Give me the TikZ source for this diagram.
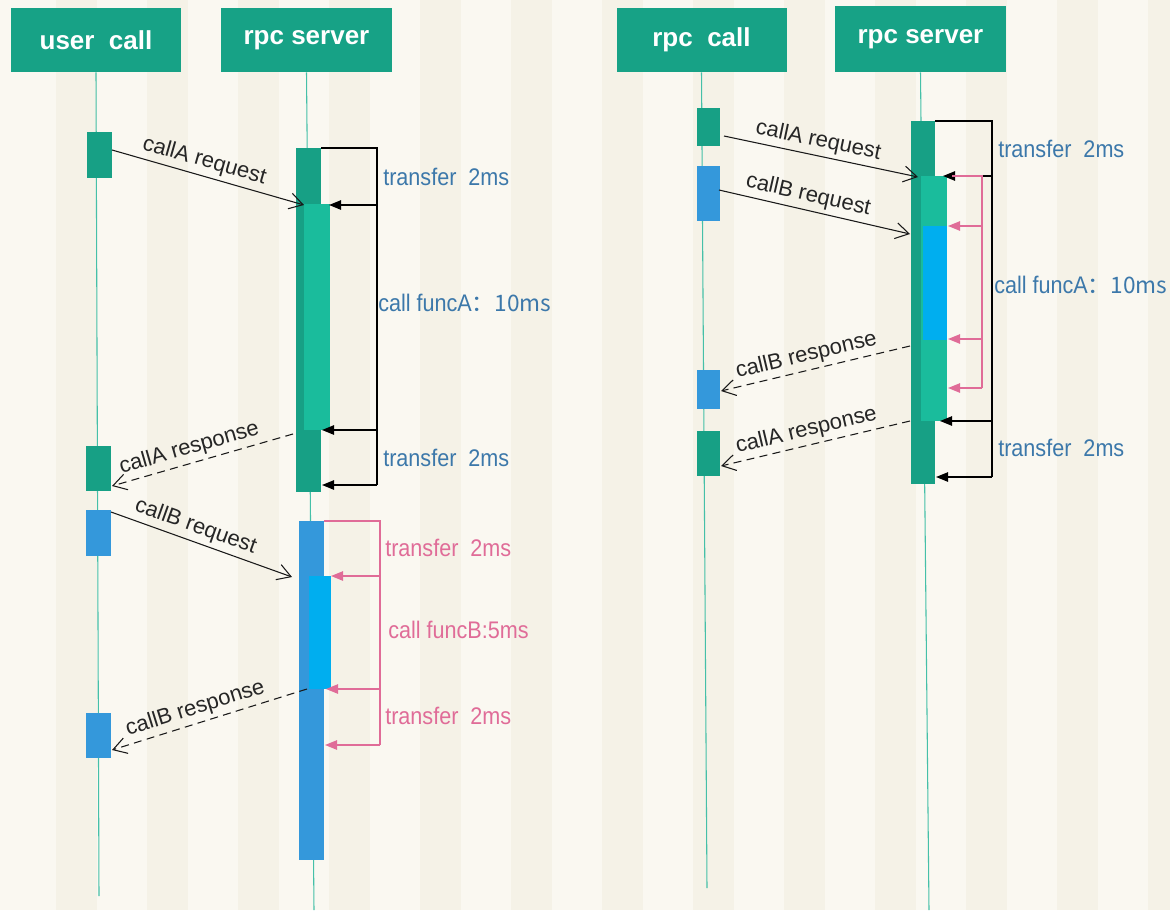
\documentclass[tikz,border=0pt]{standalone}
\usepackage{fontspec}
\setmainfont{Liberation Sans}
\newfontfamily\lblfont[FakeStretch=0.9]{Liberation Sans}
\newfontfamily\cjkfont{Noto Sans CJK SC}
\usetikzlibrary{arrows.meta,fit}
\definecolor{bgA}{HTML}{FAF8F1}
\definecolor{bgB}{HTML}{F5F2E7}
\definecolor{hdr}{HTML}{17A286}
\definecolor{grn}{HTML}{17A085}
\definecolor{lgrn}{HTML}{1ABC9C}
\definecolor{blu}{HTML}{3498DB}
\definecolor{cyn}{HTML}{00AEEF}
\definecolor{lifec}{HTML}{45C0A8}
\definecolor{lblue}{HTML}{3C78AA}
\definecolor{pnk}{HTML}{E06C98}
\begin{document}
\begin{tikzpicture}[x=0.75pt,y=-0.75pt]
\tikzset{
  hdrbox/.style={fill=hdr, text=white, font=\bfseries\fontsize{19.5}{22}\selectfont,
    minimum width=127.5pt, minimum height=48pt, inner sep=0pt},
  lifeline/.style={draw=lifec, line width=0.8pt},
  act/.style={fill=#1, draw=none, inner sep=0pt, outer sep=0pt},
  msg/.style={draw=black!90, line width=0.8pt, -{Straight Barb[length=10pt,width=12pt,line width=0.8pt]}},
  rsp/.style={msg, dash pattern=on 6pt off 4pt},
  mlabel/.style={sloped, above, text=black!85, font=\fontsize{16.5}{18}\selectfont, inner sep=3pt},
  bk/.style={draw=black, line width=1.1pt},
  bkarr/.style={bk, -{Triangle[length=9pt,width=7pt]}},
  pk/.style={draw=pnk, line width=1.1pt},
  pkarr/.style={pk, -{Triangle[length=9pt,width=7pt]}},
  side/.style={text=#1, font=\lblfont\fontsize{18}{20}\selectfont, inner sep=0pt, anchor=west},
}
% background
\useasboundingbox (0,0) rectangle (1170,910);
\begin{scope}
\clip (0,0) rectangle (1170,910);
\fill[bgA] (0,0) rectangle (1170,910);
\foreach \i in {0,...,12} {\fill[bgB] (56+91*\i,0) rectangle (97+91*\i,910);}
\end{scope}

% headers
\node[hdrbox] (uc) at (96,40) {user\ \ call};
\node[hdrbox, minimum width=128.25pt] (ls) at (306.5,40) {rpc server};
\node[hdrbox] (rc) at (701.5,40) {rpc\ \ call};
\node[hdrbox, minimum width=128.25pt, minimum height=49.5pt] (rs) at (920.5,39) {rpc server};

% lifelines
\coordinate (ucE) at (99,896);
\coordinate (lsE) at (314,910);
\coordinate (rcE) at (707,888);
\coordinate (rsE) at (929,910);
\draw[lifeline] (uc.south) -- (ucE);
\draw[lifeline] (ls.south) -- (lsE);
\draw[lifeline] (rc.south) -- (rcE);
\draw[lifeline] (rs.south) -- (rsE);

% ---------- left diagram: activations
\node[act=grn, fit={(87,132)(112,178)}] (uA1) {};
\node[act=grn, fit={(86,446)(111,491)}] (uA2) {};
\node[act=blu, fit={(86,510)(111,556)}] (uB1) {};
\node[act=blu, fit={(86,713)(111,758)}] (uB2) {};
\node[act=grn, fit={(296,148)(321,492)}] (sA) {};
\node[act=lgrn, fit={(304,204)(330,430)}] (sAi) {};
\node[act=blu, fit={(299,521)(324,860)}] (sB) {};
\node[act=cyn, fit={(309,576)(331,689)}] (sBi) {};

% black loop (left)
\coordinate (kA0) at (377,148);
\coordinate (kA1) at (377,205);
\coordinate (kA2) at (377,430);
\coordinate (kA3) at (377,485);
\coordinate (kA1t) at (329,205);
\coordinate (kA2t) at (322,430);
\coordinate (kA3t) at (322,485);
\draw[bk] (sA.north east) -- (kA0) -- (kA3);
\draw[bkarr] (kA1) -- (kA1t);
\draw[bkarr] (kA2) -- (kA2t);
\draw[bkarr] (kA3) -- (kA3t);

% pink loop (left)
\coordinate (pA0) at (380,521);
\coordinate (pA1) at (380,576);
\coordinate (pA2) at (380,689);
\coordinate (pA3) at (380,745);
\coordinate (pA1t) at (331,576);
\coordinate (pA2t) at (326,689);
\coordinate (pA3t) at (325,745);
\draw[pk] (sB.north east) -- (pA0) -- (pA3);
\draw[pkarr] (pA1) -- (pA1t);
\draw[pkarr] (pA2) -- (pA2t);
\draw[pkarr] (pA3) -- (pA3t);

% side labels (left)
\node[side=lblue] (lt1) at (383,177) {transfer\ \ 2ms};
\node[side=lblue] (lt2) at (378,303) {call\ funcA{\cjkfont\fontsize{17}{20}\selectfont ：10ms}};
\node[side=lblue] (lt3) at (383,458) {transfer\ \ 2ms};
\node[side=pnk] (lt4) at (385,548) {transfer\ \ 2ms};
\node[side=pnk] (lt5) at (388,630) {call funcB:5ms};
\node[side=pnk] (lt6) at (385,716) {transfer\ \ 2ms};

% messages (left)
\coordinate (m1s) at (112,150); \coordinate (m1e) at (304,205);
\coordinate (m2s) at (293,434); \coordinate (m2e) at (112,486);
\coordinate (m3s) at (111,512); \coordinate (m3e) at (292,577);
\coordinate (m4s) at (307,689); \coordinate (m4e) at (112,750);
\draw[msg] (m1s) -- node[mlabel, pos=0.46] (ml1) {callA request} (m1e);
\draw[rsp] (m2s) -- node[mlabel, pos=0.55] (ml2) {callA response} (m2e);
\draw[msg] (m3s) -- node[mlabel, pos=0.44] (ml3) {callB request} (m3e);
\draw[rsp] (m4s) -- node[mlabel, pos=0.55] (ml4) {callB response} (m4e);

% ---------- right diagram: activations
\node[act=grn, fit={(697,108)(720,146)}] (rA1) {};
\node[act=blu, fit={(697,166)(720,221)}] (rB1) {};
\node[act=blu, fit={(697,370)(720,409)}] (rB2) {};
\node[act=grn, fit={(697,431)(720,476)}] (rA2) {};
\node[act=grn, fit={(911,121)(935,484)}] (rsO) {};
\node[act=lgrn, fit={(921,176)(947,421)}] (rsI) {};
\node[act=cyn, fit={(923,226)(947,340)}] (rsC) {};

% black loop (right)
\coordinate (kB0) at (992,121);
\coordinate (kB1) at (992,176);
\coordinate (kB2) at (992,421);
\coordinate (kB3) at (992,477);
\coordinate (kB1t) at (943,176);
\coordinate (kB2t) at (940,421);
\coordinate (kB3t) at (936,477);
\draw[bk] (rsO.north east) -- (kB0) -- (kB3);
\draw[bkarr] (kB1) -- (kB1t);
\draw[bkarr] (kB2) -- (kB2t);
\draw[bkarr] (kB3) -- (kB3t);

% pink loop (right)
\coordinate (pB0a) at (952,176);
\coordinate (pB0) at (982,176);
\coordinate (pB1) at (982,226);
\coordinate (pB2) at (982,339);
\coordinate (pB3) at (982,388);
\coordinate (pB1t) at (948,226);
\coordinate (pB2t) at (948,339);
\coordinate (pB3t) at (948,388);
\draw[pk] (pB0a) -- (pB0) -- (pB3);
\draw[pkarr] (pB1) -- (pB1t);
\draw[pkarr] (pB2) -- (pB2t);
\draw[pkarr] (pB3) -- (pB3t);

% side labels (right)
\node[side=lblue] (rt1) at (998,149) {transfer\ \ 2ms};
\node[side=lblue] (rt2) at (994,285) {call\ funcA{\cjkfont\fontsize{17}{20}\selectfont ：10ms}};
\node[side=lblue] (rt3) at (998,448) {transfer\ \ 2ms};

% messages (right)
\coordinate (n1s) at (724,136); \coordinate (n1e) at (918,177);
\coordinate (n2s) at (719,190); \coordinate (n2e) at (910,234);
\coordinate (n3s) at (910,346); \coordinate (n3e) at (721,391);
\coordinate (n4s) at (910,421); \coordinate (n4e) at (721,466);
\draw[msg] (n1s) -- node[mlabel, pos=0.47] (nl1) {callA request} (n1e);
\draw[msg] (n2s) -- node[mlabel, pos=0.45] (nl2) {callB request} (n2e);
\draw[rsp] (n3s) -- node[mlabel, pos=0.53] (nl3) {callB response} (n3e);
\draw[rsp] (n4s) -- node[mlabel, pos=0.53] (nl4) {callA response} (n4e);
\end{tikzpicture}
\end{document}
